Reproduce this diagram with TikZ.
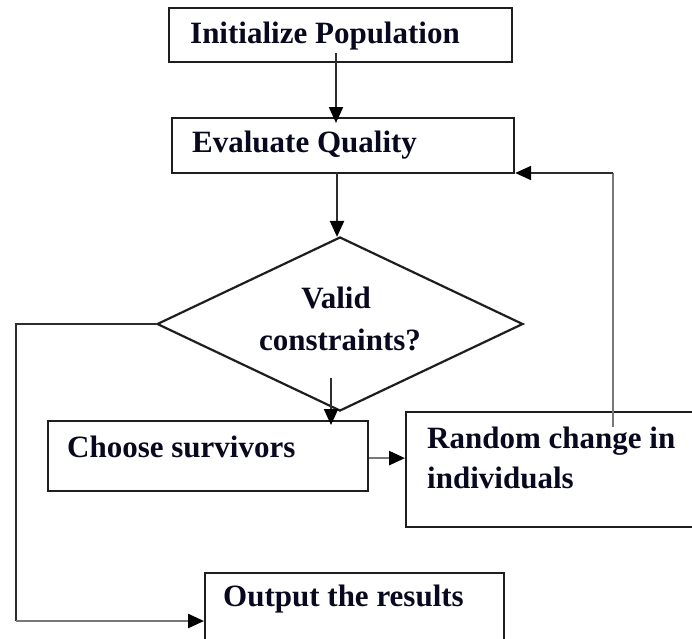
\documentclass[tikz,border=0pt]{standalone}
\usepackage{fontspec}
\setmainfont{Liberation Serif}
\usetikzlibrary{arrows.meta,shapes.geometric,calc}
\definecolor{txt}{RGB}{8,8,30}
\definecolor{edge}{RGB}{30,30,30}
\definecolor{conn}{RGB}{45,45,45}
\definecolor{lconn}{RGB}{120,120,120}
\begin{document}
\begin{tikzpicture}[x=1pt,y=-1pt,
  box/.style={draw=edge, line width=2.2pt, rectangle, inner sep=0pt, anchor=north west},
  decision/.style={draw=edge, line width=2.2pt, diamond, inner sep=0pt},
  lbl/.style={text=txt, font=\fontsize{31}{40}\selectfont\bfseries, inner sep=0pt, anchor=base west},
  arr/.style={draw=conn, line width=2.2pt, -{Triangle[length=16pt,width=14pt,color=black]}},
  garr/.style={draw=lconn, line width=2.6pt, -{Triangle[length=16pt,width=14pt,color=black]}},
  dline/.style={draw=conn, line width=2.2pt},
  gline/.style={draw=lconn, line width=2.4pt}]
\useasboundingbox (0,0) rectangle (692,638);
% boxes
\node[box, minimum width=343pt, minimum height=54pt] (init) at (168,7) {};
\node[box, minimum width=342pt, minimum height=55pt] (eval) at (171,117) {};
\node[decision, minimum width=366pt, minimum height=174pt] (dia) at (340,324) {};
\node[box, minimum width=320pt, minimum height=70pt] (choose) at (47,420) {};
\node[box, minimum width=320pt, minimum height=115pt] (rand) at (405,411) {};
\node[box, minimum width=299pt, minimum height=72pt] (out) at (204,572) {};
% texts
\node[lbl] (tInit) at (190,43) {Initialize Population};
\node[lbl] (tEval) at (192,152) {Evaluate Quality};
\node[lbl, anchor=base] (tV) at (336,308) {Valid};
\node[lbl, anchor=base] (tC) at (340,350) {constraints?};
\node[lbl] (tCh) at (67,457) {Choose survivors};
\node[lbl] (tR1) at (427,448) {Random change in};
\node[lbl] (tR2) at (427,488) {individuals};
\node[lbl] (tO) at (223,606) {Output the results};
% connectors
\coordinate (iq) at (336,53);
\draw[arr] (iq) -- ($(iq |- eval.north)+(0,6)$);
\coordinate (eq) at (337,172);
\draw[arr] (eq) -- ($(eq |- dia.north)+(0,1)$);
\coordinate (dq) at (331,378);
\draw[arr] (dq) -- ($(dq |- choose.north)+(0,5)$);
\draw[garr] ($(choose.east)+(0,2)$) -- ($(choose.east -| rand.west)+(0,2)$);
\coordinate (rq) at (613,427);
\coordinate (rt) at (613,173);
\draw[gline] (rq) -- (rt);
\draw[arr] (rt) -- (rt -| eval.east);
\coordinate (lb) at (16,621);
\draw[dline] (dia.west) -| (lb);
\draw[garr] (lb) -- (lb -| out.west);
\end{tikzpicture}
\end{document}
